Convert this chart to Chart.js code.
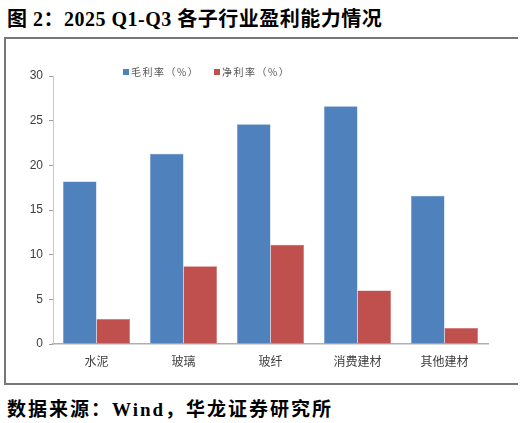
<!DOCTYPE html>
<html>
<head>
<meta charset="utf-8">
<script src="https://cdn.jsdelivr.net/npm/chart.js@4/dist/chart.umd.min.js"></script>
<style>
  html, body { margin: 0; padding: 0; background: #fff; }
  body { width: 521px; height: 423px; position: relative; overflow: hidden; }
  #title { position: absolute; left: 7px; top: 3px; font: bold 20px "Liberation Serif", "Noto Sans CJK SC", serif; color: #000; white-space: nowrap; letter-spacing: 0.5px; }
  #frame { position: absolute; left: 4px; top: 37px; width: 512px; height: 344px; border-left: 2px solid #777; border-top: 2px solid #777; border-bottom: 2px solid #777; }
  #footer { position: absolute; left: 7px; top: 394px; font: bold 19px "Liberation Serif", "Noto Sans CJK SC", serif; color: #000; white-space: nowrap; letter-spacing: 2px; }
  #wrap { position: absolute; left: 0; top: 0; width: 521px; height: 423px; }
</style>
</head>
<body>
<div id="title">图 2：2025 Q1-Q3 各子行业盈利能力情况</div>
<div id="frame"></div>
<div id="footer">数据来源：Wind，华龙证券研究所</div>
<div id="wrap"><canvas id="c" width="521" height="423"></canvas></div>
<script>
const categories = ["水泥", "玻璃", "玻纤", "消费建材", "其他建材"];
const grossMargin = [18.2, 21.3, 24.6, 26.6, 16.6];
const netMargin = [2.8, 8.7, 11.1, 6.0, 1.8];
const seriesNames = ["毛利率（%）", "净利率（%）"];
const yTicks = [0, 5, 10, 15, 20, 25, 30];

const legendPlugin = {
  id: 'customLegend',
  afterDraw(chart) {
    const ctx = chart.ctx;
    const a = chart.chartArea;
    const starts = [a.left + 70, a.left + 161];
    ctx.save();
    ctx.font = '10px "Noto Sans CJK SC", sans-serif';
    ctx.textBaseline = 'middle';
    if ('letterSpacing' in ctx) ctx.letterSpacing = '1.5px';
    chart.data.datasets.forEach((ds, i) => {
      const x = starts[i];
      const y = a.top - 4;
      ctx.fillStyle = ds.backgroundColor;
      ctx.fillRect(x, y - 3, 6, 6);
      ctx.fillStyle = '#555';
      ctx.fillText(ds.label, x + 8, y);
    });
    ctx.restore();
  }
};

new Chart(document.getElementById('c'), {
  type: 'bar',
  data: {
    labels: categories,
    datasets: [
      { label: seriesNames[0], data: grossMargin, backgroundColor: '#4F81BD', borderColor: '#6C95C9', borderWidth: 0.5 },
      { label: seriesNames[1], data: netMargin, backgroundColor: '#C0504D', borderColor: '#CC6A67', borderWidth: 0.5 }
    ]
  },
  options: {
    responsive: false,
    animation: false,
    devicePixelRatio: 1,
    layout: { padding: { left: 0, right: 33, top: 76, bottom: 39 } },
    plugins: { legend: { display: false }, tooltip: { enabled: false } },
    datasets: { bar: { categoryPercentage: 0.77, barPercentage: 1.0 } },
    scales: {
      x: {
        grid: { drawOnChartArea: false, drawTicks: false },
        border: { display: true, color: '#b0b0b0', width: 1.5 },
        ticks: { padding: 10, color: '#404040', font: { family: '"Noto Sans CJK SC", sans-serif', size: 12 } },
        afterFit(s) { s.height = 40; }
      },
      y: {
        min: 0, max: 30,
        afterBuildTicks(s) { s.ticks = yTicks.map(v => ({ value: v })); },
        grid: { drawOnChartArea: false, drawTicks: true, tickLength: 4, color: '#a0a0a0' },
        border: { display: true, color: '#c8c8c8', width: 1 },
        ticks: { padding: 6, color: '#404040', font: { family: '"Liberation Sans", Arial, sans-serif', size: 12 } },
        afterFit(s) { s.width = 53; }
      }
    }
  },
  plugins: [legendPlugin]
});
</script>
</body>
</html>
